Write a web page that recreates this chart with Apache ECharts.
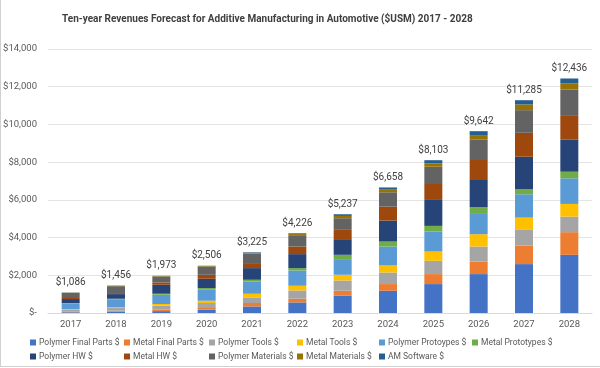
<!DOCTYPE html>
<html>
<head>
<meta charset="utf-8">
<script src="https://cdn.jsdelivr.net/npm/echarts@6/dist/echarts.min.js"></script>
<style>html,body{margin:0;padding:0;background:#fff}#c{width:600px;height:368px}</style>
</head>
<body>
<div id="c"></div>
<script>
const years = ['2017','2018','2019','2020','2021','2022','2023','2024','2025','2026','2027','2028'];
const polymerFinalParts  = [40, 70, 100, 175, 349, 561, 915, 1180, 1534, 2063, 2593, 3085];
const metalFinalParts    = [25, 50, 75, 90, 180, 196, 265, 354, 529, 667, 984, 1201];
const polymerTools       = [100, 143, 211, 264, 296, 439, 545, 614, 704, 794, 830, 825];
const metalTools         = [45, 52, 90, 122, 196, 248, 301, 371, 492, 656, 651, 672];
const polymerPrototypes  = [280, 387, 492, 582, 651, 810, 831, 1005, 1058, 1074, 1238, 1360];
const metalPrototypes    = [40, 53, 53, 90, 90, 127, 228, 264, 302, 354, 281, 349];
const polymerHW          = [210, 248, 476, 492, 619, 741, 830, 1111, 1376, 1445, 1709, 1714];
const metalHW            = [55, 53, 122, 211, 265, 402, 529, 741, 846, 1111, 1270, 1286];
const polymerMaterials   = [265, 365, 311, 430, 504, 602, 582, 762, 916, 1042, 1201, 1360];
const metalMaterials     = [15, 20, 25, 30, 45, 60, 122, 138, 180, 228, 301, 317];
const amSoftware         = [11, 15, 18, 20, 30, 40, 89, 118, 166, 208, 227, 267];
const yTicks = [0, 2000, 4000, 6000, 8000, 10000, 12000, 14000];

const seriesDefs = [
  ['Polymer Final Parts $', polymerFinalParts, '#4472C4'],
  ['Metal Final Parts $', metalFinalParts, '#ED7D31'],
  ['Polymer Tools $', polymerTools, '#A5A5A5'],
  ['Metal Tools $', metalTools, '#FFC000'],
  ['Polymer Protoypes $', polymerPrototypes, '#5B9BD5'],
  ['Metal Prototypes $', metalPrototypes, '#70AD47'],
  ['Polymer HW $', polymerHW, '#264478'],
  ['Metal HW $', metalHW, '#9E480E'],
  ['Polymer Materials $', polymerMaterials, '#636363'],
  ['Metal Materials $', metalMaterials, '#997300'],
  ['AM Software $', amSoftware, '#255E91']
];
const totals = years.map((_, i) => seriesDefs.reduce((s, d) => s + d[1][i], 0));
const fmt = v => '$' + v.toLocaleString('en-US');

const FONT = 'Roboto';
const series = seriesDefs.map((d, k) => {
  const s = {
    name: d[0], type: 'bar', stack: 'total', data: d[1], barWidth: 18,
    itemStyle: { color: d[2] }
  };
  if (k === seriesDefs.length - 1) {
    s.label = {
      show: true, position: 'top', distance: 5, color: '#404040', fontSize: 10, fontFamily: FONT,
      formatter: p => fmt(totals[p.dataIndex])
    };
  }
  return s;
});

const colX = [30, 124, 209, 297, 379, 472];
const rowY = [338, 352];
const legendPos = [[0,0],[1,0],[2,0],[3,0],[4,0],[5,0],[0,1],[1,1],[2,1],[3,1],[4,1]];
const legends = seriesDefs.map((d, k) => ({
  data: [d[0]], left: colX[legendPos[k][0]], top: rowY[legendPos[k][1]],
  itemWidth: 6, itemHeight: 6, itemGap: 0, padding: 0, icon: 'rect',
  textStyle: { color: '#595959', fontSize: 8.5, fontFamily: FONT, padding: [0,0,0,-2] },
  selectedMode: false
}));

const chart = echarts.init(document.getElementById('c'), null, { renderer: 'canvas' });
chart.setOption({
  animation: false,
  backgroundColor: '#fff',
  textStyle: { fontFamily: FONT },
  title: {
    text: 'Ten-year Revenues Forecast for Additive Manufacturing in Automotive ($USM) 2017 - 2028',
    left: 57, top: 9,
    textStyle: { fontSize: 10, fontWeight: 'bold', color: '#404040', fontFamily: FONT }
  },
  grid: { left: 48, right: 8, top: 49, bottom: 55, containLabel: false },
  legend: legends,
  xAxis: {
    type: 'category', data: years,
    axisLine: { show: true, lineStyle: { color: '#D9D9D9' } },
    axisTick: { show: false },
    axisLabel: { color: '#595959', fontSize: 9.5, fontFamily: FONT, margin: 7 }
  },
  yAxis: {
    type: 'value', min: yTicks[0], max: yTicks[yTicks.length - 1], interval: yTicks[1] - yTicks[0],
    axisLine: { show: false }, axisTick: { show: false },
    splitLine: { lineStyle: { color: '#E4E4E4' } },
    axisLabel: { color: '#595959', fontSize: 9.5, fontFamily: FONT, margin: 11,
      formatter: v => v === 0 ? '$-' : fmt(v) }
  },
  graphic: [
    { type: 'line', shape: { x1: 0.5, y1: 0, x2: 0.5, y2: 366 }, style: { stroke: '#D0D0D0', lineWidth: 1 } },
    { type: 'line', shape: { x1: 0, y1: 366.5, x2: 600, y2: 366.5 }, style: { stroke: '#D0D0D0', lineWidth: 1 } }
  ],
  series: series
});
</script>
</body>
</html>
